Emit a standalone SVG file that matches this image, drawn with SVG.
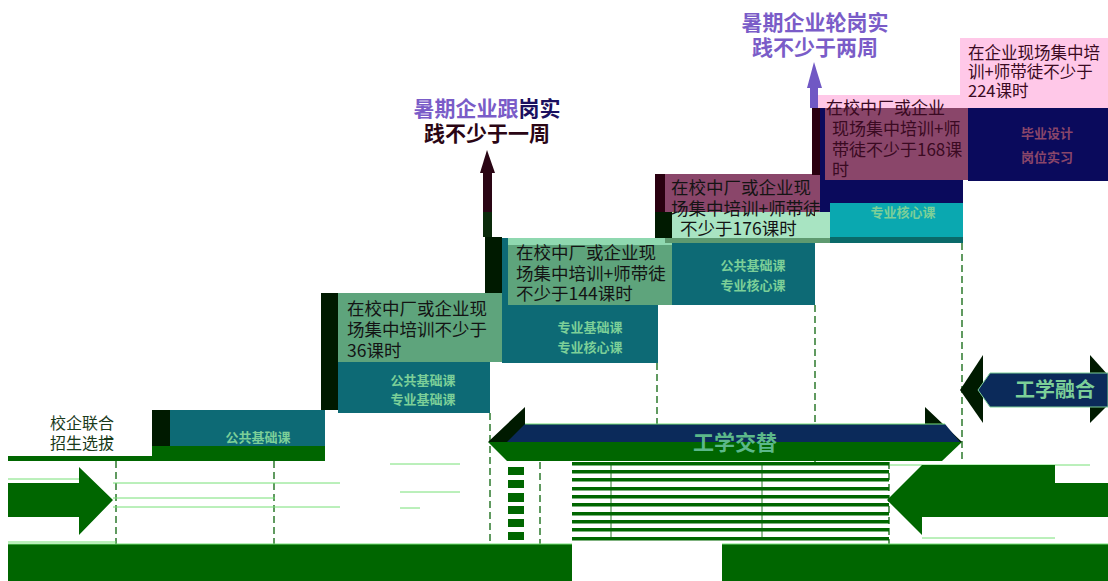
<svg xmlns="http://www.w3.org/2000/svg" width="1108" height="581" viewBox="0 0 1108 581">
<style>
text{font-family:"Noto Sans CJK SC","Noto Sans",sans-serif}
.bt{font-size:17.5px;fill:#141414}
.bm{font-size:17px;fill:#3a0a22}
.bs{font-size:16.5px;fill:#3a0a22}
.lb{font-size:13px;font-weight:bold;fill:#7ccf98}
.big{font-size:21px;font-weight:bold}
.teal{fill:#0d6a75}
.lg{fill:#5ea47c}
.dk{fill:#001a00}
.gr{fill:#006600}
.dash{stroke:#2d7a2d;stroke-width:1.5;stroke-dasharray:7 4;fill:none}
.thin{stroke:#77e077;stroke-width:1;fill:none}
</style>
<rect width="1108" height="581" fill="#fff"/>

<g id="connectors">
  <line class="dash" x1="116" y1="461" x2="116" y2="545"/>
  <line class="dash" x1="274" y1="461" x2="274" y2="545"/>
  <line class="dash" x1="490" y1="413" x2="490" y2="545"/>
  <line class="dash" x1="540" y1="462" x2="540" y2="545"/>
  <line class="dash" x1="657" y1="363" x2="657" y2="462"/>
  <line class="dash" x1="815" y1="305" x2="815" y2="462"/>
  <line class="dash" x1="962" y1="243" x2="962" y2="462"/>
  <line class="dash" x1="889" y1="462" x2="889" y2="545"/>
  <line class="thin" x1="8" y1="479" x2="80" y2="479"/>
  <line class="thin" x1="113" y1="483" x2="340" y2="483"/>
  <line class="thin" x1="113" y1="498" x2="275" y2="498"/>
  <line class="thin" x1="113" y1="507" x2="340" y2="507"/>
  <line class="thin" x1="8" y1="542" x2="116" y2="542"/>
  <line class="thin" x1="390" y1="464" x2="460" y2="464"/>
  <line class="thin" x1="400" y1="492" x2="460" y2="492"/>
  <line class="thin" x1="400" y1="508" x2="420" y2="508"/>
  <line class="thin" x1="890" y1="465" x2="1090" y2="465"/>
  <line class="thin" x1="922" y1="538" x2="1055" y2="538"/>
  <line x1="611" y1="462" x2="611" y2="540" stroke="#2d7a2d" stroke-width="1"/>
  <line x1="762" y1="462" x2="762" y2="540" stroke="#2d7a2d" stroke-width="1"/>
  <rect x="483" y="170" width="9" height="67" fill="#2a0514"/>
  <rect x="483" y="212" width="9" height="25" fill="#0a2a0a"/>
  <polygon points="487,150 480,173 495,173" fill="#2a0514"/>
  <rect x="810" y="85" width="8" height="23" fill="#7058c4"/>
  <polygon points="814,62 807,88 822,88" fill="#7058c4"/>
</g>

<g id="bottom-bars">
  <rect class="gr" x="8" y="544" width="564" height="37"/>
  <rect class="gr" x="722" y="544" width="386" height="37"/>
  <line class="thin" x1="8" y1="544" x2="572" y2="544"/>
  <line class="thin" x1="722" y1="544" x2="1108" y2="544"/>
</g>

<g id="stripes">
  <g class="gr">
    <rect x="572" y="462" width="317" height="3.5"/>
    <rect x="572" y="470" width="317" height="3.5"/>
    <rect x="572" y="478" width="317" height="3.5"/>
    <rect x="572" y="487" width="317" height="3.5"/>
    <rect x="572" y="495" width="317" height="3.5"/>
    <rect x="572" y="503" width="317" height="3.5"/>
    <rect x="572" y="512" width="317" height="3.5"/>
    <rect x="572" y="520" width="317" height="3.5"/>
    <rect x="572" y="528" width="317" height="3.5"/>
    <rect x="572" y="537" width="317" height="3.5"/>
    <rect x="508" y="467" width="16" height="8"/>
    <rect x="508" y="480" width="16" height="8"/>
    <rect x="508" y="493" width="16" height="9"/>
    <rect x="508" y="506" width="16" height="8"/>
    <rect x="508" y="519" width="16" height="8"/>
    <rect x="508" y="532" width="16" height="8"/>
  </g>
</g>

<g id="arrow-right-left">
  <polygon class="gr" points="8,483 79,483 79,467 113,500 79,535 79,517 8,517"/>
</g>
<g id="arrow-left-right">
  <polygon class="gr" points="887,500 922,465 922,483 1108,483 1108,517 922,517 922,535"/>
  <rect class="gr" x="922" y="465" width="133" height="18"/>
</g>

<g id="step1">
  <text x="82" y="429" text-anchor="middle" font-size="16" fill="#1a3a1a">校企联合</text>
  <text x="82" y="449" text-anchor="middle" font-size="16" fill="#1a3a1a">招生选拔</text>
  <rect class="gr" x="8" y="456" width="150" height="5"/>
  <rect class="dk" x="152" y="410" width="18" height="37"/>
  <rect class="teal" x="170" y="410" width="155" height="37"/>
  <rect class="gr" x="152" y="446" width="173" height="15"/>
  <text class="lb" x="258" y="442" text-anchor="middle">公共基础课</text>
</g>

<g id="step2">
  <rect class="dk" x="321" y="293" width="17" height="117"/>
  <rect class="lg" x="338" y="293" width="164" height="69"/>
  <rect class="teal" x="338" y="362" width="152" height="51"/>
  <text class="bt" x="347" y="315">在校中厂或企业现</text>
  <text class="bt" x="347" y="336">场集中培训不少于</text>
  <text class="bt" x="347" y="357">36课时</text>
  <text class="lb" x="423" y="385" text-anchor="middle">公共基础课</text>
  <text class="lb" x="423" y="404" text-anchor="middle">专业基础课</text>
</g>

<g id="step3">
  <rect class="dk" x="485" y="237" width="17" height="56"/>
  <rect class="teal" x="502" y="238" width="170" height="67"/>
  <rect class="lg" x="508" y="238" width="164" height="67"/>
  <rect x="508" y="238" width="164" height="7" fill="#8fd8b0"/>
  <rect class="teal" x="502" y="305" width="156" height="58"/>
  <text class="bt" x="516" y="259">在校中厂或企业现</text>
  <text class="bt" x="516" y="280">场集中培训+师带徒</text>
  <text class="bt" x="516" y="300">不少于144课时</text>
  <text class="lb" x="590" y="332" text-anchor="middle">专业基础课</text>
  <text class="lb" x="590" y="352" text-anchor="middle">专业核心课</text>
  <text class="big" x="487" y="116" text-anchor="middle"><tspan fill="#7a5cc8">暑期企业跟</tspan><tspan fill="#1a1060">岗实</tspan></text>
  <text class="big" x="487" y="141" text-anchor="middle" fill="#2a0514">践不少于一周</text>
</g>

<g id="step4">
  <rect x="655" y="174" width="12" height="38" fill="#2a0010"/>
  <rect x="665" y="174" width="155" height="38" fill="#8a466a"/>
  <rect class="dk" x="655" y="212" width="17" height="26"/>
  <rect x="672" y="212" width="158" height="27" fill="#a8e4c2"/>
  <rect x="665" y="238" width="165" height="5" fill="#5e9a70"/>
  <rect class="teal" x="672" y="243" width="143" height="62"/>
  <text class="bt" x="671" y="194" fill="#2a0a18">在校中厂或企业现</text>
  <text class="bt" x="671" y="215" fill="#2a0a18">场集中培训+师带徒</text>
  <text class="bt" x="680" y="235">不少于176课时</text>
  <text class="lb" x="753" y="270" text-anchor="middle">公共基础课</text>
  <text class="lb" x="753" y="290" text-anchor="middle">专业核心课</text>
</g>

<g id="step5">
  <rect x="818" y="95" width="144" height="13" fill="#ffc8e8"/>
  <rect x="812" y="108" width="10" height="67" fill="#2a0010"/>
  <rect x="820" y="108" width="143" height="104" fill="#0a0a5c"/>
  <rect x="825" y="108" width="143" height="72" fill="#8a466a"/>
  <rect x="830" y="203" width="133" height="34" fill="#0aa8b0"/>
  <rect x="830" y="237" width="133" height="6" fill="#0a6a6a"/>
  <rect x="815" y="212" width="15" height="26" fill="#a8e4c2"/>
  <text class="bm" x="826" y="114">在校中厂或企业</text>
  <text class="bm" x="832" y="135">现场集中培训+师</text>
  <text class="bm" x="832" y="156">带徒不少于168课</text>
  <text class="bm" x="832" y="176">时</text>
  <text class="lb" x="903" y="217" text-anchor="middle">专业核心课</text>
  <text class="big" x="815" y="30" text-anchor="middle" fill="#7a5cc8">暑期企业轮岗实</text>
  <text class="big" x="815" y="55" text-anchor="middle" fill="#7a5cc8">践不少于两周</text>
</g>

<g id="step6">
  <rect x="960" y="38" width="148" height="70" fill="#ffc8e8"/>
  <rect x="968" y="108" width="140" height="73" fill="#0a0a5c"/>
  <text class="bs" x="968" y="59">在企业现场集中培</text>
  <text class="bs" x="968" y="78">训+师带徒不少于</text>
  <text class="bs" x="968" y="97">224课时</text>
  <text class="lb" x="1047" y="138" text-anchor="middle" style="fill:#8a466a">毕业设计</text>
  <text class="lb" x="1047" y="162" text-anchor="middle" style="fill:#8a466a">岗位实习</text>
</g>

<g id="gongxue-jiaoti">
  <polygon class="dk" points="488,442 525,407 525,424 925,424 925,407 962,442"/>
  <polygon points="507,442 525,424 945,424 960,442 505,445" fill="#0b2a5a"/>
  <polygon class="gr" points="488,442 962,442 942,461 507,461"/>
  <line class="thin" x1="525" y1="424" x2="945" y2="424"/>
  <text class="big" x="735" y="450" text-anchor="middle" fill="#5cb88a">工学交替</text>
</g>

<g id="gongxue-ronghe">
  <polygon class="dk" points="960,390 983,355 983,423"/>
  <polygon class="dk" points="1090,355 1108,375 1108,405 1090,423"/>
  <polygon points="978,390 990,373 1108,373 1108,407 990,407" fill="#0b2a5a" stroke="#7ccf98" stroke-width="1"/>
  <text x="1055" y="397" text-anchor="middle" font-size="20" font-weight="bold" fill="#7ccf98">工学融合</text>
</g>
</svg>
